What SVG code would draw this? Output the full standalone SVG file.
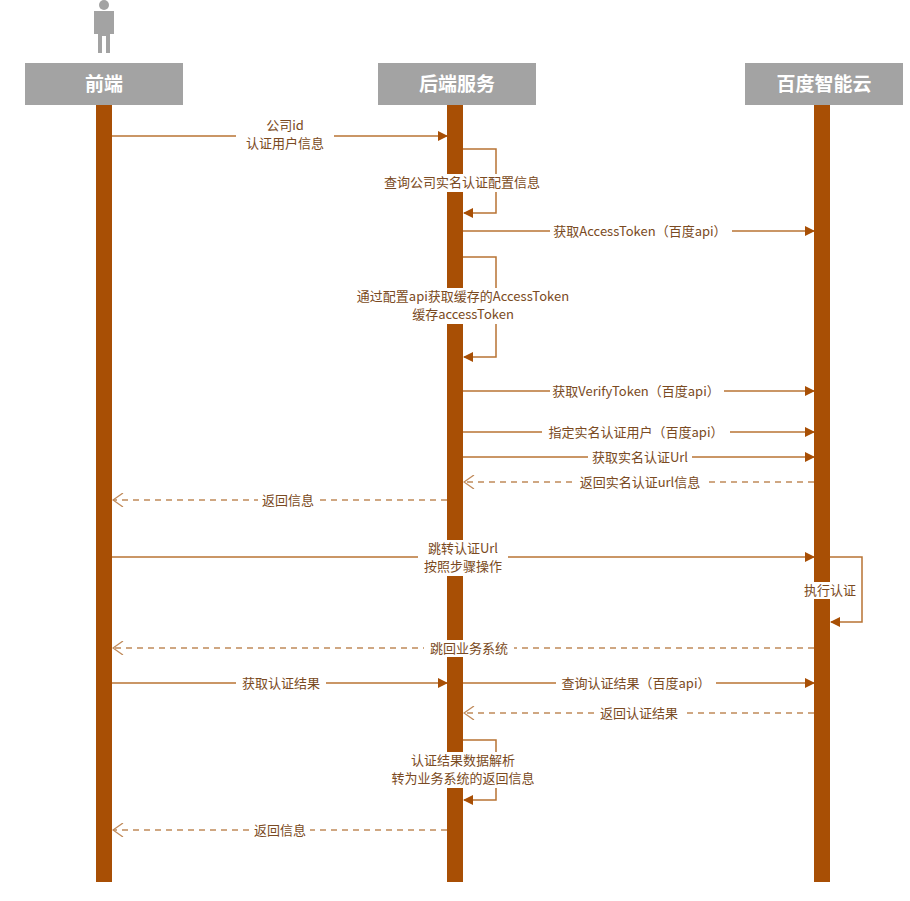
<svg xmlns="http://www.w3.org/2000/svg" width="910" height="901" viewBox="0 0 910 901">
<style>
.hd{fill:#a3a3a3}
.ht{font-family:"Noto Sans CJK SC",sans-serif;font-size:19px;font-weight:bold;fill:#fff;text-anchor:middle}
.bar{fill:#a84f05}
.m{stroke:#b87333;stroke-width:1.5;fill:none}
.d{stroke:#c08a5a;stroke-width:1.3;fill:none;stroke-dasharray:6,5}
.t{font-family:"Noto Sans CJK SC",sans-serif;font-size:13px;fill:#7a4a22;text-anchor:middle}
.bg{fill:#fff}
</style>
<defs>
<marker id="a" markerWidth="10" markerHeight="10" refX="9" refY="5" orient="auto" markerUnits="userSpaceOnUse"><path d="M0,0 L10,5 L0,10z" fill="#a84f05"/></marker>
<marker id="o" markerWidth="12" markerHeight="14" refX="11" refY="7" orient="auto" markerUnits="userSpaceOnUse"><path d="M1,0 L11,7 L1,14" fill="none" stroke="#c08a5a" stroke-width="1.3"/></marker>
</defs>
<rect width="910" height="901" fill="#fff"/>
<g id="actor">
<circle cx="104" cy="5" r="5" fill="#a3a3a3"/>
<path d="M94,11 H114 V34 H110 V53 H106 V36 H102 V53 H98 V34 H94z" fill="#a3a3a3"/>
</g>
<g id="frontend"><rect class="hd" x="25" y="63" width="158" height="42"/><text class="ht" x="104" y="91">前端</text><rect class="bar" x="96" y="105" width="16" height="777"/></g>
<g id="backend"><rect class="hd" x="378" y="63" width="158" height="42"/><text class="ht" x="457" y="91">后端服务</text><rect class="bar" x="447" y="105" width="16" height="777"/></g>
<g id="baidu"><rect class="hd" x="745" y="63" width="158" height="42"/><text class="ht" x="824" y="91">百度智能云</text><rect class="bar" x="814" y="105" width="16" height="777"/></g>
<g id="connectors">
<path class="m" d="M112,136 H447" marker-end="url(#a)"/>
<path class="m" d="M463,149 H496 V213 H464" marker-end="url(#a)"/>
<path class="m" d="M463,231 H814" marker-end="url(#a)"/>
<path class="m" d="M463,257 H496 V357 H464" marker-end="url(#a)"/>
<path class="m" d="M463,391 H814" marker-end="url(#a)"/>
<path class="m" d="M463,432 H814" marker-end="url(#a)"/>
<path class="m" d="M463,457 H814" marker-end="url(#a)"/>
<path class="d" d="M814,482 H464" marker-end="url(#o)"/>
<path class="d" d="M447,500 H113" marker-end="url(#o)"/>
<path class="m" d="M112,557 H814" marker-end="url(#a)"/>
<path class="m" d="M830,557 H862 V622 H831" marker-end="url(#a)"/>
<path class="d" d="M814,648 H113" marker-end="url(#o)"/>
<path class="m" d="M112,683 H447" marker-end="url(#a)"/>
<path class="m" d="M463,683 H814" marker-end="url(#a)"/>
<path class="d" d="M814,713 H464" marker-end="url(#o)"/>
<path class="m" d="M463,740 H496 V800 H464" marker-end="url(#a)"/>
<path class="d" d="M447,830 H113" marker-end="url(#o)"/>
</g>
<g id="labels">
<rect class="bg" x="236" y="117" width="98" height="36"/>
<text class="t" x="285" y="130">公司id</text><text class="t" x="285" y="148">认证用户信息</text>
<rect class="bg" x="376" y="174" width="172" height="18"/><text class="t" x="462" y="187">查询公司实名认证配置信息</text>
<rect class="bg" x="550" y="223" width="182" height="17"/><text class="t" x="640" y="236">获取AccessToken（百度api）</text>
<rect class="bg" x="348" y="288" width="230" height="36"/>
<text class="t" x="463" y="301">通过配置api获取缓存的AccessToken</text><text class="t" x="463" y="319">缓存accessToken</text>
<rect class="bg" x="550" y="383" width="174" height="17"/><text class="t" x="636" y="396">获取VerifyToken（百度api）</text>
<rect class="bg" x="542" y="424" width="188" height="17"/><text class="t" x="636" y="437">指定实名认证用户（百度api）</text>
<rect class="bg" x="588" y="449" width="104" height="17"/><text class="t" x="640" y="462">获取实名认证Url</text>
<rect class="bg" x="576" y="474" width="130" height="17"/><text class="t" x="640" y="487">返回实名认证url信息</text>
<rect class="bg" x="258" y="492" width="60" height="17"/><text class="t" x="288" y="505">返回信息</text>
<rect class="bg" x="418" y="540" width="90" height="36"/>
<text class="t" x="463" y="553">跳转认证Url</text><text class="t" x="463" y="571">按照步骤操作</text>
<rect class="bg" x="800" y="582" width="60" height="17"/><text class="t" x="830" y="595">执行认证</text>
<rect class="bg" x="424" y="640" width="90" height="17"/><text class="t" x="469" y="653">跳回业务系统</text>
<rect class="bg" x="236" y="675" width="90" height="17"/><text class="t" x="281" y="688">获取认证结果</text>
<rect class="bg" x="556" y="675" width="160" height="17"/><text class="t" x="636" y="688">查询认证结果（百度api）</text>
<rect class="bg" x="594" y="705" width="90" height="17"/><text class="t" x="639" y="718">返回认证结果</text>
<rect class="bg" x="384" y="752" width="158" height="36"/>
<text class="t" x="463" y="765">认证结果数据解析</text><text class="t" x="463" y="783">转为业务系统的返回信息</text>
<rect class="bg" x="250" y="822" width="60" height="17"/><text class="t" x="280" y="835">返回信息</text>
</g>
</svg>
